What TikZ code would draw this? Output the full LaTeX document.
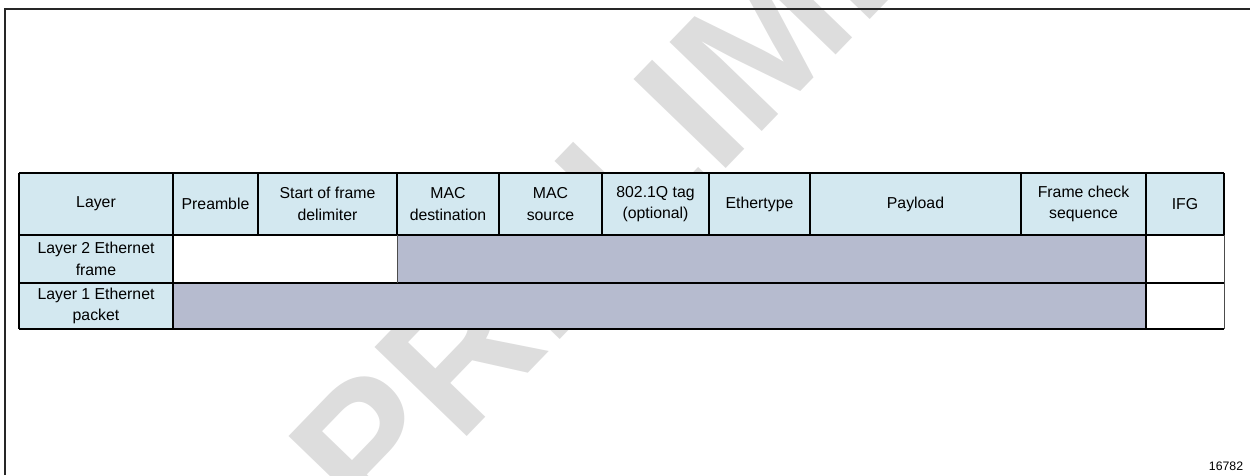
\documentclass[tikz,border=0pt]{standalone}
\usepackage{fontspec}
\setmainfont{Liberation Sans}

\definecolor{hdrblue}{RGB}{211,232,240}
\definecolor{fillgray}{RGB}{182,187,207}
\definecolor{wmgray}{RGB}{221,221,221}

\tikzset{
  celltext/.style={align=center, inner sep=0pt, font=\fontsize{9}{12.3}\selectfont},
  rowline/.style={line width=1.2pt},
  thinline/.style={line width=0.5pt, black!70}
}

\begin{document}
\begin{tikzpicture}[x=0.2mm,y=-0.2mm]
   \useasboundingbox (0,0) rectangle (1250,475);
   \clip (0,0) rectangle (1250,475);

   %% Wasserzeichen
   \node[wmgray, rotate=46, anchor=base west, inner sep=0pt,
         font=\fontsize{106}{106}\selectfont\bfseries] (wm) at (372,535) {PRELIMINARY};

   %% Rahmen
   \draw[line width=1.2pt, black!85] (5,475) -- (5,9) -- (1250,9);

   %% Markierung
   \fill[hdrblue] (19,173) rectangle (1224,235);
   \fill[hdrblue] (19,235) rectangle (173,329);
   \fill[white] (173,235) rectangle (397,283);
   \fill[fillgray] (397,235) rectangle (1146,283);
   \fill[fillgray] (173,283) rectangle (1146,329);
   \fill[white] (1146,235) rectangle (1224,329);

   %% Tabelle
   \foreach \y in {173,235,283,329}
      \draw[rowline] (19,\y) -- (1224,\y);
   \foreach \x in {19,173,258,397,499,602,709,810,1021,1146,1224}
      \draw[rowline] (\x,173) -- (\x,235);
   \foreach \x in {19,173,1146}
      \draw[rowline] (\x,235) -- (\x,329);
   \draw[thinline] (397,235) -- (397,283);
   \draw[thinline] (1224,235) -- (1224,329);

   %% Beschriftung
   \node[celltext] (layer) at (96,204) {Layer};
   \node[celltext] (pre) at (215.5,204) {Preamble};
   \node[celltext] (sfd) at (327.5,204) {Start of frame\\delimiter};
   \node[celltext] (macd) at (448,204) {MAC\\destination};
   \node[celltext] (macs) at (550.5,204) {MAC\\source};
   \node[celltext] (tag) at (655.5,204) {802.1Q tag\\(optional)};
   \node[celltext] (etype) at (759.5,204) {Ethertype};
   \node[celltext] (pay) at (915.5,204) {Payload};
   \node[celltext] (fcs) at (1083.5,204) {Frame check\\sequence};
   \node[celltext] (ifg) at (1185,204) {IFG};
   \node[celltext] (ltwo) at (96,259) {Layer 2 Ethernet\\frame};
   \node[celltext] (lone) at (96,306) {Layer 1 Ethernet\\packet};

   \node[inner sep=0pt, font=\fontsize{7}{8}\selectfont] (fignum) at (1226,466) {16782};
\end{tikzpicture}
\end{document}
